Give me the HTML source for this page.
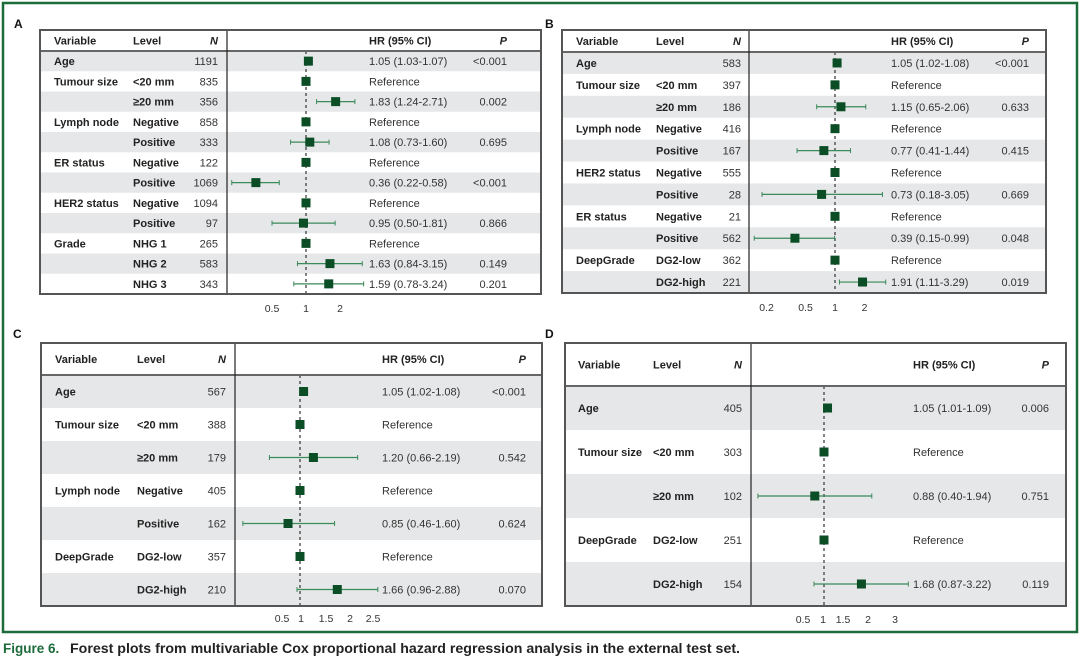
<!DOCTYPE html>
<html><head><meta charset="utf-8">
<style>
html,body{margin:0;padding:0;background:#fff;}
svg{display:block;font-family:"Liberation Sans",Arial,sans-serif;}
</style></head>
<body>
<svg id="fig" width="1080" height="658" viewBox="0 0 1080 658">
<rect x="3" y="3" width="1074" height="629" fill="none" stroke="#1d6b3a" stroke-width="2.5"/>
<text x="3" y="653" font-size="13.5" font-weight="bold" fill="#1d6b3a">Figure 6.</text>
<text x="70" y="653" font-size="13.5" font-weight="bold" fill="#222" textLength="670" lengthAdjust="spacingAndGlyphs">Forest plots from multivariable Cox proportional hazard regression analysis in the external test set.</text>
</svg>
<script>
// Panel A data
const aVars=["Age","Tumour size","","Lymph node","","ER status","","HER2 status","","Grade","",""];
const aLevels=["","<20 mm","≥20 mm","Negative","Positive","Negative","Positive","Negative","Positive","NHG 1","NHG 2","NHG 3"];
const aN=[1191,835,356,858,333,122,1069,1094,97,265,583,343];
const aHR=[1.05,1,1.83,1,1.08,1,0.36,1,0.95,1,1.63,1.59];
const aLo=[1.03,null,1.24,null,0.73,null,0.22,null,0.50,null,0.84,0.78];
const aHi=[1.07,null,2.71,null,1.60,null,0.58,null,1.81,null,3.15,3.24];
const aP=["<0.001","","0.002","","0.695","","<0.001","","0.866","","0.149","0.201"];
const aTicks=[0.5,1,2];
// Panel B data
const bVars=["Age","Tumour size","","Lymph node","","HER2 status","","ER status","","DeepGrade",""];
const bLevels=["","<20 mm","≥20 mm","Negative","Positive","Negative","Positive","Negative","Positive","DG2-low","DG2-high"];
const bN=[583,397,186,416,167,555,28,21,562,362,221];
const bHR=[1.05,1,1.15,1,0.77,1,0.73,1,0.39,1,1.91];
const bLo=[1.02,null,0.65,null,0.41,null,0.18,null,0.15,null,1.11];
const bHi=[1.08,null,2.06,null,1.44,null,3.05,null,0.99,null,3.29];
const bP=["<0.001","","0.633","","0.415","","0.669","","0.048","","0.019"];
const bTicks=[0.2,0.5,1,2];
// Panel C data
const cVars=["Age","Tumour size","","Lymph node","","DeepGrade",""];
const cLevels=["","<20 mm","≥20 mm","Negative","Positive","DG2-low","DG2-high"];
const cN=[567,388,179,405,162,357,210];
const cHR=[1.05,1,1.20,1,0.85,1,1.66];
const cLo=[1.02,null,0.66,null,0.46,null,0.96];
const cHi=[1.08,null,2.19,null,1.60,null,2.88];
const cP=["<0.001","","0.542","","0.624","","0.070"];
const cTicks=[0.5,1,1.5,2,2.5];
// Panel D data
const dVars=["Age","Tumour size","","DeepGrade",""];
const dLevels=["","<20 mm","≥20 mm","DG2-low","DG2-high"];
const dN=[405,303,102,251,154];
const dHR=[1.05,1,0.88,1,1.68];
const dLo=[1.01,null,0.40,null,0.87];
const dHi=[1.09,null,1.94,null,3.22];
const dP=["0.006","","0.751","","0.119"];
const dTicks=[0.5,1,1.5,2,3];

const NS="http://www.w3.org/2000/svg";
const svg=document.getElementById('fig');
function mk(tag,attrs,parent,txt){const e=document.createElementNS(NS,tag);for(const k in attrs)e.setAttribute(k,attrs[k]);if(txt!==undefined)e.textContent=txt;(parent||svg).appendChild(e);return e;}
function logScale(x1,perLog2){return v=>x1+perLog2*Math.log2(v);}
function pwScale(dom,rng){return v=>{let i=0;while(i<dom.length-2&&v>dom[i+1])i++;const t=(v-dom[i])/(dom[i+1]-dom[i]);return rng[i]+t*(rng[i+1]-rng[i]);};}

function panel(id,label,cfg,vars,levels,ns,hr,lo,hi,ps,ticks){
  const tsc=cfg.tsc||cfg.sc;
  const g=mk('g',{});
  
  
  const lb=mk('text',{x:cfg.lx,y:cfg.ly,'font-size':12,'font-weight':'bold',fill:'#111'},g,label);
  
  
  const n=vars.length, rh=(cfg.y1-cfg.yh)/n;
  for(let i=0;i<n;i++){
    const y=cfg.yh+i*rh, cy=y+rh/2;
    const row=mk('g',{},g);
    
    
    if(i%2===0) mk('rect',{x:cfg.x0,y:y,width:cfg.x1-cfg.x0,height:rh,fill:'#e6e7e8'},row);
    const ty=cy+4;
    if(vars[i]) mk('text',{x:cfg.varX,y:ty,'font-size':11,'font-weight':'bold',fill:'#222'},row,vars[i]);
    if(levels[i]) mk('text',{x:cfg.lvlX,y:ty,'font-size':11,'font-weight':'bold',fill:'#222'},row,levels[i]);
    mk('text',{x:cfg.nX,y:ty,'font-size':11,'text-anchor':'end',fill:'#333'},row,String(ns[i]));
    const txt=lo[i]===null?'Reference':hr[i].toFixed(2)+' ('+lo[i].toFixed(2)+'-'+hi[i].toFixed(2)+')';
    mk('text',{x:cfg.hrX,y:ty,'font-size':11,fill:'#333'},row,txt);
    if(ps[i]) mk('text',{x:cfg.pX,y:ty,'font-size':11,'text-anchor':'end',fill:'#333'},row,ps[i]);
  }
  const rx=cfg.sc(1);
  mk('line',{x1:rx,y1:cfg.yh,x2:rx,y2:cfg.y1,stroke:'#333','stroke-width':1.2,'stroke-dasharray':'3,3'},g);
  for(let i=0;i<n;i++){
    const cy=cfg.yh+i*rh+rh/2;
    if(lo[i]!==null){
      const w=mk('g',{},g);
      
      
      const xa=cfg.sc(lo[i]),xb=cfg.sc(hi[i]);
      mk('line',{x1:xa,y1:cy,x2:xb,y2:cy,stroke:'#3b8a5a','stroke-width':1.2},w);
      mk('line',{x1:xa,y1:cy-2.5,x2:xa,y2:cy+2.5,stroke:'#3b8a5a','stroke-width':1},w);
      mk('line',{x1:xb,y1:cy-2.5,x2:xb,y2:cy+2.5,stroke:'#3b8a5a','stroke-width':1},w);
    }
    const s=cfg.sq, x=cfg.sc(hr[i]);
    const r=mk('rect',{x:x-s/2,y:cy-s/2,width:s,height:s,fill:'#0b4d25'},g);
    
    
  }
  const hy=cfg.y0+(cfg.yh-cfg.y0)/2+4;
  const hd=mk('g',{},g);
  
  
  mk('text',{x:cfg.varX,y:hy,'font-size':11,'font-weight':'bold',fill:'#222'},hd,'Variable');
  mk('text',{x:cfg.lvlX,y:hy,'font-size':11,'font-weight':'bold',fill:'#222'},hd,'Level');
  mk('text',{x:cfg.nX,y:hy,'font-size':11,'font-weight':'bold','font-style':'italic','text-anchor':'end',fill:'#222'},hd,'N');
  mk('text',{x:cfg.hrX,y:hy,'font-size':11,'font-weight':'bold',fill:'#222'},hd,'HR (95% CI)');
  mk('text',{x:cfg.pX,y:hy,'font-size':11,'font-weight':'bold','font-style':'italic','text-anchor':'end',fill:'#222'},hd,'P');
  mk('line',{x1:cfg.x0,y1:cfg.yh,x2:cfg.x1,y2:cfg.yh,stroke:'#666','stroke-width':2},g);
  mk('line',{x1:cfg.sep,y1:cfg.y0,x2:cfg.sep,y2:cfg.y1,stroke:'#222','stroke-width':1.2},g);
  mk('rect',{x:cfg.x0,y:cfg.y0,width:cfg.x1-cfg.x0,height:cfg.y1-cfg.y0,fill:'none',stroke:'#555','stroke-width':2},g);
  const ax=mk('g',{},g);
  
  
  ticks.forEach(t=>{
    const tl=mk('text',{x:tsc(t),y:cfg.y1+cfg.ay,'font-size':10.5,'text-anchor':'middle',fill:'#333'},ax,String(t));
    
    
  });
}

panel('a','A',{x0:40,x1:541,y0:30,yh:51,y1:294,sep:227,varX:54,lvlX:133,nX:218,hrX:369,pX:507,lx:14,ly:28,sq:9,ay:18,sc:logScale(306,34)},
  aVars,aLevels,aN,aHR,aLo,aHi,aP,aTicks);
panel('b','B',{x0:562,x1:1046,y0:30,yh:52,y1:293,sep:749,varX:576,lvlX:656,nX:741,hrX:891,pX:1029,lx:545,ly:28,sq:9,ay:18,sc:logScale(835,29.5)},
  bVars,bLevels,bN,bHR,bLo,bHi,bP,bTicks);
panel('c','C',{x0:41,x1:542,y0:343,yh:375,y1:606,sep:235,varX:55,lvlX:137,nX:226,hrX:382,pX:526,lx:13,ly:338,sq:9,ay:16,sc:logScale(300,51),tsc:pwScale([0.5,1,1.5,2,2.5],[282,301,326,350,373])},
  cVars,cLevels,cN,cHR,cLo,cHi,cP,cTicks);
panel('d','D',{x0:565,x1:1066,y0:343,yh:386,y1:606,sep:751,varX:578,lvlX:653,nX:742,hrX:913,pX:1049,lx:545,ly:338,sq:9,ay:17,sc:logScale(824,50),tsc:pwScale([0.5,1,1.5,2,3],[803,823,843,868,895])},
  dVars,dLevels,dN,dHR,dLo,dHi,dP,dTicks);
</script>
</body></html>
